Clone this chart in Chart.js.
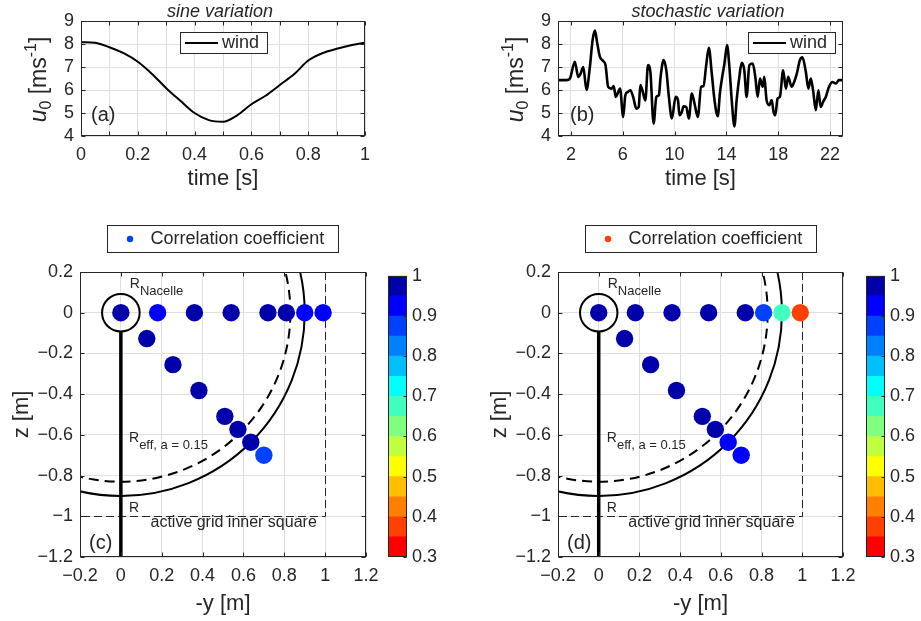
<!DOCTYPE html>
<html>
<head>
<meta charset="utf-8">
<script src="https://cdn.jsdelivr.net/npm/chart.js@4.4.1/dist/chart.umd.min.js"></script>
<style>
  html, body { margin: 0; padding: 0; background: #fff; }
  #fig { position: relative; width: 921px; height: 621px; overflow: hidden; background: #fff; }
  #fig canvas { position: absolute; }
</style>
</head>
<body>
<div id="fig">
  <canvas id="cA" width="460" height="200" style="left:0;top:0"></canvas>
  <canvas id="cB" width="461" height="200" style="left:460px;top:0"></canvas>
  <canvas id="cC" width="460" height="411" style="left:0;top:210px"></canvas>
  <canvas id="cD" width="461" height="411" style="left:460px;top:210px"></canvas>
  <canvas id="cbC" width="82" height="320" style="left:378px;top:260px"></canvas>
  <canvas id="cbD" width="65" height="320" style="left:856px;top:260px"></canvas>
</div>
<script>
// (a) sine variation
const timeA = [0, 0.05, 0.1, 0.15, 0.2, 0.25, 0.3, 0.35, 0.4, 0.45, 0.5, 0.55, 0.6, 0.65, 0.7, 0.75, 0.8, 0.85, 0.9, 0.95, 1];
const windA = [8.08, 8.05, 7.86, 7.6, 7.23, 6.7, 6.08, 5.53, 5.0, 4.69, 4.62, 4.9, 5.38, 5.75, 6.22, 6.68, 7.28, 7.6, 7.79, 7.95, 8.06];

// (b) stochastic variation
const timeB = [1.0, 1.67, 1.92, 2.3, 2.56, 2.74, 2.95, 3.2, 3.46, 3.67, 3.85, 4.03, 4.23, 4.49, 4.67, 4.87,
  5.13, 5.3, 5.46, 5.64, 5.79, 6.03, 6.2, 6.41, 6.59, 6.8, 7.05, 7.23, 7.36, 7.51, 7.74, 7.95, 8.13, 8.38,
  8.59, 8.79, 8.92, 9.15, 9.36, 9.56, 9.79, 10.08, 10.26, 10.38, 10.56, 10.69, 10.9, 11.1, 11.33, 11.54,
  11.79, 12.05, 12.23, 12.44, 12.64, 12.87, 13.08, 13.33, 13.51, 13.72, 13.85, 14.05, 14.23, 14.41, 14.62,
  14.79, 15.0, 15.18, 15.38, 15.56, 15.77, 16.03, 16.23, 16.41, 16.59, 16.8, 16.92, 17.1, 17.31, 17.49,
  17.64, 17.77, 17.95, 18.13, 18.38, 18.59, 18.77, 19.03, 19.23, 19.44, 19.67, 19.87, 20.13, 20.33, 20.51,
  20.69, 20.9, 21.1, 21.28, 21.46, 21.67, 21.92, 22.18, 22.44, 22.69, 23.0];
const windB = [6.43, 6.43, 6.5, 7.23, 6.57, 6.7, 7.0, 6.0, 7.0, 8.17, 8.58, 8.03, 7.45, 7.26, 7.08, 6.14,
  6.06, 6.17, 5.7, 5.9, 6.06, 4.83, 5.78, 5.92, 5.99, 5.7, 5.19, 5.26, 6.21, 5.99, 5.55, 7.08, 6.79, 4.54,
  5.7, 5.78, 6.57, 7.3, 6.86, 5.7, 4.76, 5.7, 5.56, 4.9, 5.04, 5.29, 5.26, 4.76, 5.85, 5.41,
  4.83, 6.14, 6.17, 7.08, 7.84, 6.72, 5.56, 4.86, 5.92, 6.72, 7.15, 7.95, 7.0, 5.56, 4.42,
  5.56, 6.57, 7.18, 6.86, 5.7, 7.08, 7.15, 6.57, 5.7, 6.5, 6.14, 6.57, 5.56, 5.34, 5.56,
  5.05, 4.9, 5.63, 5.7, 6.86, 6.06, 6.57, 6.14, 6.35, 6.72, 7.3, 7.42, 6.79, 6.06, 6.5,
  5.99, 5.12, 5.99, 5.26, 5.48, 5.7, 6.14, 6.35, 6.28, 6.43, 6.43];

// (c), (d) probe positions and correlation coefficients
const probeY = [0, 0.18, 0.36, 0.54, 0.72, 0.81, 0.90, 0.99, 0.127, 0.255, 0.382, 0.509, 0.573, 0.636, 0.70];
const probeZ = [0, 0, 0, 0, 0, 0, 0, 0, -0.127, -0.255, -0.382, -0.509, -0.573, -0.636, -0.70];
const corrSine = [0.97, 0.92, 0.97, 0.98, 0.97, 0.96, 0.92, 0.92, 0.97, 0.97, 0.97, 0.96, 0.96, 0.96, 0.87];
const corrStoch = [0.98, 0.97, 0.97, 0.97, 0.96, 0.87, 0.67, 0.37, 0.98, 0.97, 0.97, 0.97, 0.96, 0.92, 0.92];

// ticks
const xTicksA = [0, 0.1, 0.2, 0.3, 0.4, 0.5, 0.6, 0.7, 0.8, 0.9, 1];
const xLabelsA = [0, 0.2, 0.4, 0.6, 0.8, 1];
const xTicksB = [2, 6, 10, 14, 18, 22];
const yTicksU = [4, 5, 6, 7, 8, 9];
const xTicksField = [-0.2, 0, 0.2, 0.4, 0.6, 0.8, 1, 1.2];
const yTicksField = [-1.2, -1, -0.8, -0.6, -0.4, -0.2, 0, 0.2];

// colour bar
const cbEdges = [0.3, 0.35, 0.4, 0.45, 0.5, 0.55, 0.6, 0.65, 0.7, 0.75, 0.8, 0.85, 0.9, 0.95, 1];
const cbColors = ['#FF0000', '#FF4000', '#FF8000', '#FFBF00', '#FFFF00', '#BFFF40', '#80FF80',
  '#40FFBF', '#00FFFF', '#00BFFF', '#0080FF', '#0040FF', '#0000FF', '#0000AA'];
const cbTicks = [0.3, 0.4, 0.5, 0.6, 0.7, 0.8, 0.9, 1];

// geometry of the sketch [m]
const R_ROTOR = 0.9;
const R_EFF = 0.83;
const R_NACELLE = 0.092;
const SQUARE = 1;

const FONT = "'Liberation Sans', Arial, Helvetica, sans-serif";
const INK = '#262626';
const GRID = '#dfdfdf';

Chart.defaults.font.family = FONT;
Chart.defaults.color = INK;
Chart.defaults.animation = false;
Chart.defaults.plugins.legend.display = false;
Chart.defaults.plugins.tooltip.enabled = false;

function fixTicks(values) {
  return s => { s.ticks = values.map(v => ({ value: v })); };
}
function fmt(v) {
  const r = Math.round(v * 10) / 10;
  return r < 0 ? '\u2212' + String(-r) : String(r);
}
function colorFor(v) {
  for (let i = 0; i < cbColors.length; i++) {
    if (v < cbEdges[i + 1]) return cbColors[i];
  }
  return cbColors[cbColors.length - 1];
}

// text with sub/superscripts
function rich(ctx, runs, x, y, center, rotate) {
  ctx.save();
  ctx.translate(x, y);
  if (rotate) ctx.rotate(-Math.PI / 2);
  ctx.fillStyle = INK;
  ctx.textAlign = 'left';
  ctx.textBaseline = 'alphabetic';
  const font = r => (r.i ? 'italic ' : '') + r.s + 'px ' + FONT;
  let w = 0;
  runs.forEach(r => { ctx.font = font(r); r.w = ctx.measureText(r.t).width; w += r.w; });
  let cx = center ? -w / 2 : 0;
  runs.forEach(r => { ctx.font = font(r); ctx.fillText(r.t, cx, r.dy || 0); cx += r.w; });
  ctx.restore();
}

function label(ctx, text, x, y, size, style) {
  ctx.save();
  ctx.fillStyle = INK;
  ctx.font = (style ? style + ' ' : '') + size + 'px ' + FONT;
  ctx.textAlign = 'left';
  ctx.textBaseline = 'middle';
  ctx.fillText(text, x, y);
  ctx.restore();
}

// matlab style box with inward ticks
const boxPlugin = {
  id: 'box',
  afterDatasetsDraw(chart, args, opts) {
    const { ctx, chartArea: a, scales } = chart;
    const L = Math.round(a.left) + 0.5, R = Math.round(a.right) - 0.5;
    const T = Math.round(a.top) + 0.5, B = Math.round(a.bottom) - 0.5;
    const tl = 4;
    ctx.save();
    ctx.strokeStyle = INK;
    ctx.lineWidth = 1;
    ctx.beginPath();
    if (!opts.rightOnly) {
      scales.x.ticks.forEach(t => {
        const p = Math.round(scales.x.getPixelForValue(t.value)) + 0.5;
        ctx.moveTo(p, B); ctx.lineTo(p, B - tl);
        ctx.moveTo(p, T); ctx.lineTo(p, T + tl);
      });
    }
    scales.y.ticks.forEach(t => {
      const p = Math.round(scales.y.getPixelForValue(t.value)) + 0.5;
      if (!opts.rightOnly) { ctx.moveTo(L, p); ctx.lineTo(L + tl, p); }
      ctx.moveTo(R, p); ctx.lineTo(R - (opts.rightOnly ? 3 : tl), p);
    });
    ctx.stroke();
    ctx.strokeRect(L, T, R - L, B - T);
    ctx.restore();
  }
};

function lineLegend(ctx, x, y, w, h) {
  ctx.save();
  ctx.fillStyle = '#fff';
  ctx.fillRect(x, y, w, h);
  ctx.strokeStyle = INK;
  ctx.lineWidth = 1;
  ctx.strokeRect(x + 0.5, y + 0.5, w, h);
  ctx.strokeStyle = '#000';
  ctx.lineWidth = 2;
  ctx.beginPath();
  ctx.moveTo(x + 5, y + h / 2 + 0.5);
  ctx.lineTo(x + 38, y + h / 2 + 0.5);
  ctx.stroke();
  ctx.restore();
  label(ctx, 'wind', x + 42, y + h / 2 + 1, 18);
}

function uTitle(ctx, x, y) {
  rich(ctx, [
    { t: 'u', s: 23, i: true },
    { t: '0', s: 16, dy: 5 },
    { t: ' [ms', s: 23 },
    { t: '-1', s: 16, dy: -10 },
    { t: ']', s: 23 }
  ], x, y, true, true);
}

function timeChart(id, time, wind, opt) {
  const deco = {
    id: 'deco',
    afterDraw(chart) {
      const { ctx, chartArea: a } = chart;
      ctx.save();
      ctx.fillStyle = INK;
      ctx.font = 'italic 18px ' + FONT;
      ctx.textAlign = 'center';
      ctx.textBaseline = 'middle';
      ctx.fillText(opt.title, a.left + opt.titleDx, 11.5);
      ctx.restore();
      lineLegend(ctx, a.left + opt.legendDx, 32, 87, 21);
      label(ctx, opt.letter, a.left + opt.letterDx, a.bottom - 21, 20);
      uTitle(ctx, a.left - 35, (a.top + a.bottom) / 2 + 1);
    }
  };
  return new Chart(document.getElementById(id), {
    type: 'line',
    data: {
      datasets: [{
        data: time.map((t, i) => ({ x: t, y: wind[i] })),
        borderColor: '#000',
        borderWidth: opt.lw,
        pointRadius: 0,
        cubicInterpolationMode: 'monotone'
      }]
    },
    options: {
      responsive: false,
      layout: { padding: { left: 0, right: opt.padRight, top: 21, bottom: 0 } },
      scales: {
        x: {
          type: 'linear', min: opt.min, max: opt.max,
          afterBuildTicks: fixTicks(opt.ticks),
          afterFit: s => { s.height = 64; },
          grid: { color: GRID, drawTicks: false },
          border: { display: false },
          ticks: { autoSkip: false, maxRotation: 0, padding: 8, font: { size: 18 }, callback: opt.tickLabel },
          title: { display: true, text: 'time [s]', font: { size: 22 }, padding: { top: 0, bottom: 8 } }
        },
        y: {
          min: 4, max: 9,
          afterBuildTicks: fixTicks(yTicksU),
          afterFit: s => { s.width = opt.yWidth; },
          grid: { color: GRID, drawTicks: false },
          border: { display: false },
          ticks: { autoSkip: false, padding: 7, font: { size: 18 }, callback: fmt }
        }
      },
      plugins: { box: {} }
    },
    plugins: [boxPlugin, deco]
  });
}

timeChart('cA', timeA, windA, {
  title: 'sine variation', titleDx: 139, legendDx: 99, letter: '(a)', letterDx: 10,
  lw: 2, min: 0, max: 1, ticks: xTicksA, padRight: 95, yWidth: 81,
  tickLabel: v => xLabelsA.some(l => Math.abs(l - v) < 1e-9) ? fmt(v) : ''
});
timeChart('cB', timeB, windB, {
  title: 'stochastic variation', titleDx: 150, legendDx: 190, letter: '(b)', letterDx: 12,
  lw: 2.6, min: 1, max: 23, ticks: xTicksB, padRight: 78, yWidth: 98,
  tickLabel: v => fmt(v)
});

function fieldChart(id, corr, letter, padRight, yWidth) {
  const colors = corr.map(colorFor);
  const legendColor = colorFor(Math.min(...corr));
  const deco = {
    id: 'field',
    beforeDatasetsDraw(chart) {
      const { ctx, chartArea: a, scales: { x, y } } = chart;
      const px = v => x.getPixelForValue(v), py = v => y.getPixelForValue(v);
      const rx = r => px(r) - px(0), ry = r => py(0) - py(r);
      ctx.save();
      ctx.beginPath();
      ctx.rect(a.left, a.top, a.right - a.left, a.bottom - a.top);
      ctx.clip();
      ctx.strokeStyle = INK;
      // active grid inner square
      ctx.lineWidth = 1;
      ctx.setLineDash([8, 4]);
      ctx.beginPath();
      ctx.moveTo(Math.round(px(SQUARE)) + 0.5, a.top);
      ctx.lineTo(Math.round(px(SQUARE)) + 0.5, Math.round(py(-SQUARE)) + 0.5);
      ctx.lineTo(a.left, Math.round(py(-SQUARE)) + 0.5);
      ctx.stroke();
      // effective radius
      ctx.strokeStyle = '#000';
      ctx.lineWidth = 2;
      ctx.setLineDash([10, 6]);
      ctx.beginPath();
      ctx.ellipse(px(0), py(0), rx(R_EFF), ry(R_EFF), 0, 0, 2 * Math.PI);
      ctx.stroke();
      // rotor radius
      ctx.setLineDash([]);
      ctx.beginPath();
      ctx.ellipse(px(0), py(0), rx(R_ROTOR), ry(R_ROTOR), 0, 0, 2 * Math.PI);
      ctx.stroke();
      // tower
      ctx.lineWidth = 3.5;
      ctx.beginPath();
      ctx.moveTo(px(0), py(-R_NACELLE));
      ctx.lineTo(px(0), a.bottom);
      ctx.stroke();
      // nacelle
      ctx.lineWidth = 2;
      ctx.beginPath();
      ctx.ellipse(px(0), py(0), rx(R_NACELLE), ry(R_NACELLE), 0, 0, 2 * Math.PI);
      ctx.stroke();
      ctx.restore();
    },
    afterDraw(chart) {
      const { ctx, chartArea: a, scales: { x, y } } = chart;
      const px = v => x.getPixelForValue(v), py = v => y.getPixelForValue(v);
      rich(ctx, [{ t: 'R', s: 14 }, { t: 'Nacelle', s: 13, dy: 7 }], px(0.044), py(0.12), false, false);
      rich(ctx, [{ t: 'R', s: 14 }, { t: 'eff, a = 0.15', s: 13, dy: 7 }], px(0.04), py(-0.633), false, false);
      rich(ctx, [{ t: 'R', s: 14 }], px(0.04), py(-0.977), false, false);
      rich(ctx, [{ t: 'active grid inner square', s: 16 }], px(0.145), py(-1.054), false, false);
      label(ctx, letter, a.left + 9, a.bottom - 14, 20);
      // legend
      const lx = a.left + 27, ly = 15, lw = 231, lh = 27;
      ctx.save();
      ctx.fillStyle = '#fff';
      ctx.fillRect(lx, ly, lw, lh);
      ctx.strokeStyle = INK;
      ctx.lineWidth = 1;
      ctx.strokeRect(lx + 0.5, ly + 0.5, lw, lh);
      ctx.fillStyle = legendColor;
      ctx.beginPath();
      ctx.arc(lx + 23, ly + lh / 2 + 0.5, 3.2, 0, 2 * Math.PI);
      ctx.fill();
      ctx.restore();
      label(ctx, 'Correlation coefficient', lx + 43.5, ly + lh / 2 + 1, 18);
      rich(ctx, [{ t: 'z [m]', s: 22 }], a.left - 52, (a.top + a.bottom) / 2, true, true);
    }
  };
  return new Chart(document.getElementById(id), {
    type: 'scatter',
    data: {
      datasets: [{
        data: probeY.map((v, i) => ({ x: v, y: probeZ[i] })),
        pointBackgroundColor: colors,
        pointBorderColor: colors,
        pointBorderWidth: 0,
        pointRadius: 8.7
      }]
    },
    options: {
      responsive: false,
      layout: { padding: { left: 0, right: padRight, top: 62, bottom: 0 } },
      scales: {
        x: {
          type: 'linear', min: -0.2, max: 1.2,
          afterBuildTicks: fixTicks(xTicksField),
          afterFit: s => { s.height = 64; },
          grid: { color: GRID, drawTicks: false },
          border: { display: false },
          ticks: { autoSkip: false, maxRotation: 0, padding: 8, font: { size: 18 }, callback: fmt },
          title: { display: true, text: '-y [m]', font: { size: 22 }, padding: { top: 0, bottom: 4 } }
        },
        y: {
          min: -1.2, max: 0.2,
          afterBuildTicks: fixTicks(yTicksField),
          afterFit: s => { s.width = yWidth; },
          grid: { color: GRID, drawTicks: false },
          border: { display: false },
          ticks: { autoSkip: false, padding: 7, font: { size: 18 }, callback: fmt }
        }
      },
      plugins: { box: {} }
    },
    plugins: [boxPlugin, deco]
  });
}

fieldChart('cC', corrSine, '(c)', 94, 80);
fieldChart('cD', corrStoch, '(d)', 78, 98);

function colorbar(id, axisWidth) {
  return new Chart(document.getElementById(id), {
    type: 'bar',
    data: {
      labels: [''],
      datasets: cbColors.map((c, i) => ({
        data: [[cbEdges[i], cbEdges[i + 1]]],
        backgroundColor: c,
        borderWidth: 0,
        barPercentage: 1,
        categoryPercentage: 1
      }))
    },
    options: {
      responsive: false,
      layout: { padding: { left: 10, right: 0, top: 13, bottom: 23 } },
      scales: {
        x: { display: false, stacked: true },
        y: {
          position: 'right', stacked: false, min: 0.3, max: 1,
          afterBuildTicks: fixTicks(cbTicks),
          afterFit: s => { s.width = axisWidth; },
          grid: { display: false, drawTicks: false },
          border: { display: false },
          ticks: { autoSkip: false, padding: 5, font: { size: 18 }, callback: fmt }
        }
      },
      plugins: { box: { rightOnly: true } }
    },
    plugins: [boxPlugin]
  });
}

colorbar('cbC', 53);
colorbar('cbD', 36);
</script>
</body>
</html>
